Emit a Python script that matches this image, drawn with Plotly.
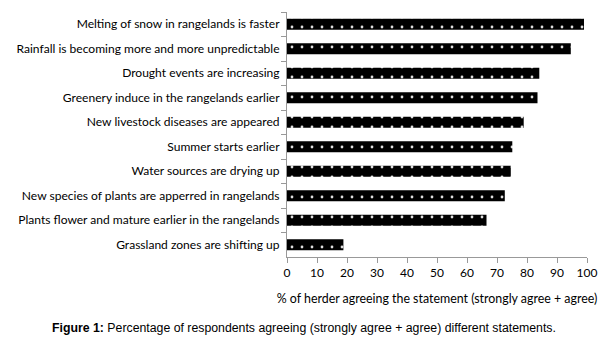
import plotly.graph_objects as go

statements = [
    "Melting of snow in rangelands is faster",
    "Rainfall is becoming more and more unpredictable",
    "Drought events are increasing",
    "Greenery induce in the rangelands earlier",
    "New livestock diseases are appeared",
    "Summer starts earlier",
    "Water sources are drying up",
    "New species of plants are apperred in rangelands",
    "Plants flower and mature earlier in the rangelands",
    "Grassland zones are shifting up",
]
percent_agree = [99, 94.6, 84.1, 83.5, 78.9, 75.1, 74.6, 72.6, 66.5, 18.8]
x_ticks = list(range(0, 101, 10))

fig = go.Figure(go.Bar(
    x=percent_agree,
    y=statements,
    orientation="h",
    width=0.45,
    marker=dict(
        color="black",
        line=dict(width=0),
        pattern=dict(shape=".", fgcolor="#dddddd", bgcolor="black", size=10, solidity=0.06, fillmode="replace"),
    ),
))

# page body has an 8px default margin, so the figure is drawn 8px smaller
fig.update_layout(
    width=598, height=334,
    margin=dict(l=279, r=19, t=4, b=85, autoexpand=False),
    paper_bgcolor="white", plot_bgcolor="white",
    showlegend=False,
    font=dict(family="Lato, Open Sans, sans-serif", size=12, color="black"),
)
fig.update_xaxes(
    range=[0, 100], tickvals=x_ticks, showgrid=False, zeroline=False, automargin=False,
    showline=True, linecolor="#999999", linewidth=1,
    ticks="outside", ticklen=5, tickcolor="#999999",
    title=dict(text="% of herder agreeing the statement (strongly agree + agree)", standoff=14,
               font=dict(size=12.4)),
    tickfont=dict(size=12),
)
fig.update_yaxes(
    autorange="reversed", showgrid=False, zeroline=False, automargin=False,
    showline=True, linecolor="#999999", linewidth=1,
    ticks="outside", ticklen=5, tickcolor="#999999", tickson="boundaries",
    ticklabelstandoff=4,
    tickfont=dict(size=12.05),
)
fig.add_annotation(
    xref="paper", yref="paper", x=0.057, y=0, xanchor="center", yanchor="top",
    yshift=-62,
    text="<b>Figure 1:</b> Percentage of respondents agreeing (strongly agree + agree) different statements.",
    showarrow=False,
    font=dict(family="Liberation Sans, Arial, sans-serif", size=12.3, color="black"),
)
fig.write_html("out.html")
